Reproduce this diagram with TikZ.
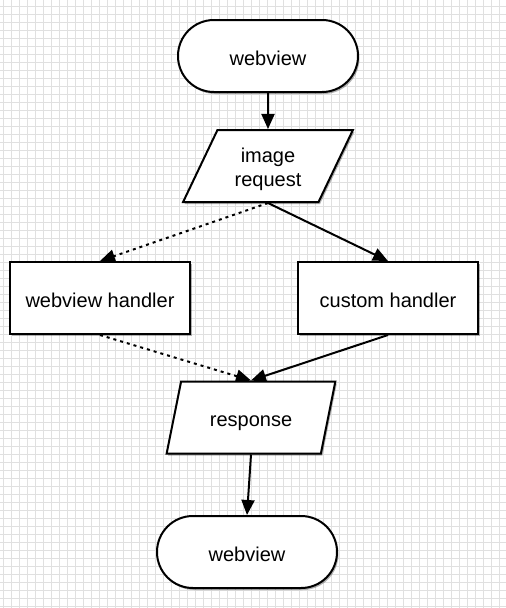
\documentclass[tikz,border=0pt]{standalone}
\usepackage{fontspec}
\setmainfont{Liberation Sans}
\usetikzlibrary{arrows.meta,shapes.geometric,shadows}
\pgfdeclarelayer{gridlayer}
\pgfdeclarelayer{linklayer}
\pgfsetlayers{gridlayer,linklayer,main}
\setlength\tabcolsep{0pt}
\tikzset{
  base/.style={draw=black, line width=2pt, fill=white, font=\fontsize{20}{24}\selectfont, align=center,
    drop shadow={shadow xshift=1.5pt, shadow yshift=-2pt, opacity=0.3, fill=black}},
  oneline/.style={text height=18pt, text depth=0pt},
  terminal/.style={base, oneline, rectangle, rounded corners=35.9pt, minimum width=180pt, minimum height=72pt},
  procbox/.style={base, oneline, rectangle, minimum width=180pt, minimum height=72pt},
  iobox/.style={base, trapezium, trapezium left angle=64.7, trapezium right angle=115.3,
    trapezium stretches=true, minimum width=170pt, minimum height=72pt, inner sep=0pt},
  link/.style={line width=2pt, -{Triangle[length=15pt,width=13pt]}},
  dotlink/.style={link, dash pattern=on 3pt off 4pt},
  gridline/.style={draw=black!12, line width=1pt}
}
\begin{document}
\begin{tikzpicture}[x=1pt,y=-1pt]
\useasboundingbox (0,0) rectangle (506,608);
\begin{pgfonlayer}{gridlayer}
  \fill[white] (0,0) rectangle (506,608);
  \foreach \x in {3,11,...,506} \draw[gridline] (\x,0) -- (\x,608);
  \foreach \y in {6,14,...,608} \draw[gridline] (0,\y) -- (506,\y);
\end{pgfonlayer}

\node[terminal] (top) at (268,56) {webview};
\node[iobox] (req) at (268,166) {\raisebox{-4pt}[\height][\depth]{\begin{tabular}{c}image\\request\end{tabular}}};
\node[procbox] (wvh) at (100,298) {webview handler};
\node[procbox] (cuh) at (388,298) {custom handler};
\node[iobox, oneline] (resp) at (251,417.5) {response};
\node[terminal] (bot) at (247,552) {webview};

\begin{pgfonlayer}{linklayer}
  \draw[link] (top.south) -- (req.north);
  \draw[dotlink] (req.south) -- (wvh.north);
  \draw[link] (req.south) -- (cuh.north);
  \draw[dotlink] (wvh.south) -- (resp.north);
  \draw[link] (cuh.south) -- (resp.north);
  \draw[link] (resp.south) -- (bot.north);
\end{pgfonlayer}
\end{tikzpicture}
\end{document}
